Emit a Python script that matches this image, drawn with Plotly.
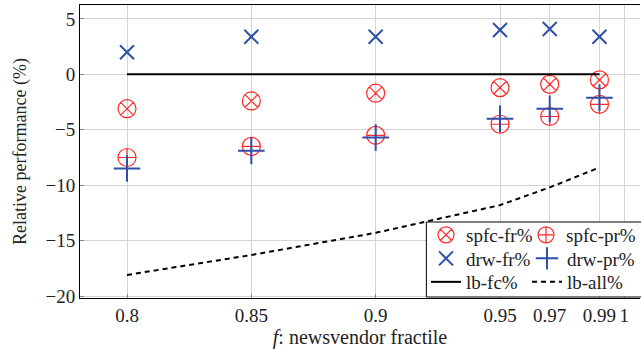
import plotly.graph_objects as go

# newsvendor fractiles
fractiles = [0.8, 0.85, 0.9, 0.95, 0.97, 0.99]

# relative performance (%) per method
spfc_fr = [-3.1, -2.4, -1.7, -1.2, -0.9, -0.5]
spfc_pr = [-7.5, -6.5, -5.5, -4.5, -3.8, -2.7]
drw_fr = [2.0, 3.4, 3.4, 4.0, 4.1, 3.4]
drw_pr = [-8.5, -6.9, -5.7, -4.0, -3.1, -2.1]
lb_fc = [0.0, 0.0, 0.0, 0.0, 0.0, 0.0]
lb_all = [-18.1, -16.3, -14.3, -11.8, -10.2, -8.4]

x_tickvals = [0.8, 0.85, 0.9, 0.95, 0.97, 0.99, 1.0]
x_ticktext = ["0.8", "0.85", "0.9", "0.95", "0.97", "0.99", "1"]
y_tickvals = [-20, -15, -10, -5, 0, 5]
y_ticktext = ["\u221220", "\u221215", "\u221210", "\u22125", "0", "5"]

RED = "#ff2a2a"
BLUE = "#2f4fa8"
FONT = "Liberation Serif, DejaVu Serif, serif"

# plot area in pixels (used to place the legend grid)
PL, PR, PT, PB = 80, 641, 5, 298
PW, PH = PR - PL, PB - PT


def px_x(px):
    return (px - PL) / PW


def px_y(py):
    return (PB - py) / PH


# legend grid: two columns, three rows, one single-entry legend per cell
COL_X = [426, 527]
ROW_Y = [235, 258.5, 282]

fig = go.Figure()

fig.add_trace(go.Scatter(
    x=fractiles, y=spfc_fr, mode="markers", name="spfc-fr%", legend="legend",
    marker=dict(symbol="circle-x-open", size=18, color=RED, line=dict(width=1.2, color=RED)),
))
fig.add_trace(go.Scatter(
    x=fractiles, y=spfc_pr, mode="markers", name="spfc-pr%", legend="legend2",
    marker=dict(symbol="circle-cross-open", size=18, color=RED, line=dict(width=1.2, color=RED)),
))
fig.add_trace(go.Scatter(
    x=fractiles, y=drw_fr, mode="markers", name="drw-fr%", legend="legend3",
    marker=dict(symbol="x-thin-open", size=14, color=BLUE, line=dict(width=2, color=BLUE)),
))
fig.add_trace(go.Scatter(
    x=fractiles, y=drw_pr, mode="markers", name="drw-pr%", legend="legend4",
    marker=dict(symbol="cross-thin-open", size=19, color=BLUE, line=dict(width=2, color=BLUE)),
))
fig.add_trace(go.Scatter(
    x=fractiles, y=lb_fc, mode="lines", name="lb-fc%", legend="legend5",
    line=dict(color="black", width=2),
))
fig.add_trace(go.Scatter(
    x=fractiles, y=lb_all, mode="lines", name="lb-all%", legend="legend6",
    line=dict(color="black", width=2, dash="5px,4px"),
))


def cell_legend(col, row):
    return dict(
        orientation="v",
        x=px_x(COL_X[col]), xanchor="left",
        y=px_y(ROW_Y[row]), yanchor="middle",
        bgcolor="rgba(0,0,0,0)", borderwidth=0,
        font=dict(family=FONT, size=19, color="#222"),
        tracegroupgap=0,
    )


fig.update_layout(
    width=641, height=349,
    margin=dict(l=PL, r=0, t=PT, b=349 - PB),
    paper_bgcolor="white", plot_bgcolor="white",
    font=dict(family=FONT, size=19, color="#222"),
    showlegend=True,
    legend=cell_legend(0, 0),
    legend2=cell_legend(1, 0),
    legend3=cell_legend(0, 1),
    legend4=cell_legend(1, 1),
    legend5=cell_legend(0, 2),
    legend6=cell_legend(1, 2),
    shapes=[dict(
        type="rect", xref="paper", yref="paper", layer="above",
        x0=px_x(427), x1=1.02, y0=px_y(297), y1=px_y(222),
        fillcolor="white", line=dict(color="black", width=1),
    )],
)

fig.update_xaxes(
    range=[0.7811, 1.0063],
    tickmode="array", tickvals=x_tickvals, ticktext=x_ticktext,
    showgrid=True, gridcolor="#d4d4d4", gridwidth=1,
    showline=True, linecolor="black", linewidth=1, mirror=True,
    ticks="inside", ticklen=4, tickcolor="#888",
    zeroline=False,
    title=dict(text="<i>f</i>: newsvendor fractile", font=dict(family=FONT, size=20), standoff=6),
    tickfont=dict(family=FONT, size=19),
)
fig.update_yaxes(
    range=[-20.18, 6.26],
    tickmode="array", tickvals=y_tickvals, ticktext=y_ticktext,
    showgrid=True, gridcolor="#d4d4d4", gridwidth=1,
    showline=True, linecolor="black", linewidth=1, mirror=False,
    ticks="inside", ticklen=4, tickcolor="#888",
    zeroline=False,
    title=dict(text="Relative performance (%)", font=dict(family=FONT, size=18), standoff=14),
    tickfont=dict(family=FONT, size=19),
)

fig.write_html("out.html")
